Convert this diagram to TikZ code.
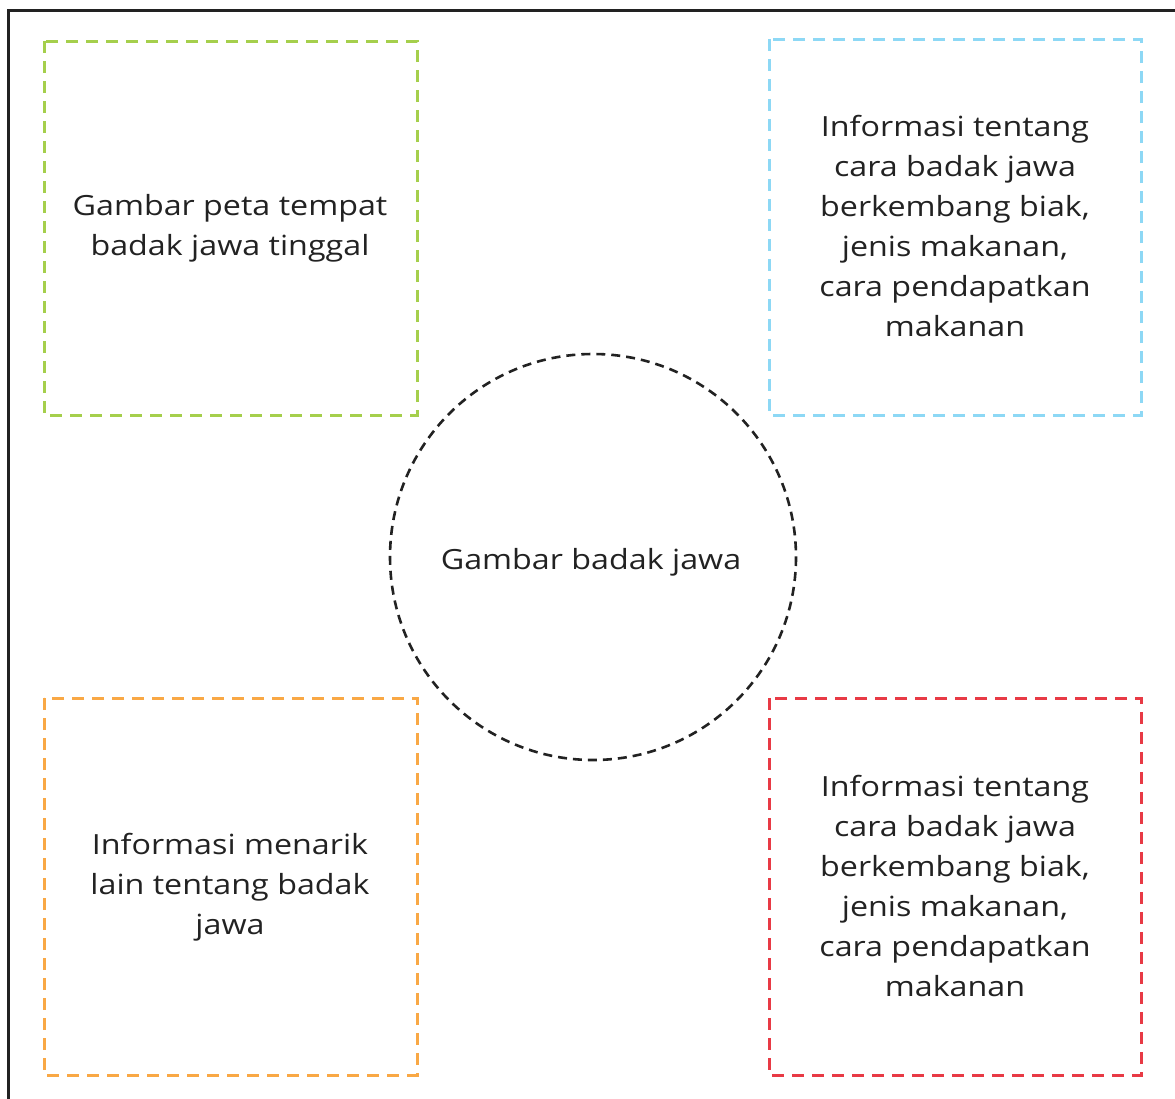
\documentclass[tikz,border=0pt]{standalone}
\usepackage{fontspec}
\setmainfont{Open Sans}[FakeStretch=1.16]
\definecolor{cgreen}{HTML}{A5CF4C}
\definecolor{cblue}{HTML}{8DD8F5}
\definecolor{corange}{HTML}{F9A845}
\definecolor{cred}{HTML}{E83A45}
\definecolor{cdark}{HTML}{222222}
\begin{document}
\begin{tikzpicture}[x=1pt,y=-1pt,
  dbox/.style={draw, line width=3pt, dash pattern=on 12pt off 8pt, line cap=butt},
  lbl/.style={align=center, font=\fontsize{27.8}{40}\selectfont, text=cdark, inner sep=0pt}]
\useasboundingbox (0,0) rectangle (1175,1098);
\draw[cdark, line width=3pt] (8,1110) -- (8,10) -- (1190,10);
\draw[dbox, cgreen] (44,41) rectangle (417,415);
\draw[dbox, cblue] (769,39) rectangle (1141,415);
\draw[dbox, corange] (44,698) rectangle (417,1075);
\draw[dbox, cred] (769,698) rectangle (1141,1075);
\draw[line width=2.6pt, cdark, dash pattern=on 9pt off 6pt] (593,557) circle (203);
\node[lbl] (g) at (230,228) {Gambar peta tempat\\badak jawa tinggal};
\node[lbl] (b) at (955,226) {Informasi tentang\\cara badak jawa\\berkembang biak,\\jenis makanan,\\cara pendapatkan\\makanan};
\node[lbl] (c) at (591,562) {Gambar badak jawa};
\node[lbl] (o) at (230,887) {Informasi menarik\\lain tentang badak\\jawa};
\node[lbl] (r) at (955,886) {Informasi tentang\\cara badak jawa\\berkembang biak,\\jenis makanan,\\cara pendapatkan\\makanan};
\end{tikzpicture}
\end{document}
